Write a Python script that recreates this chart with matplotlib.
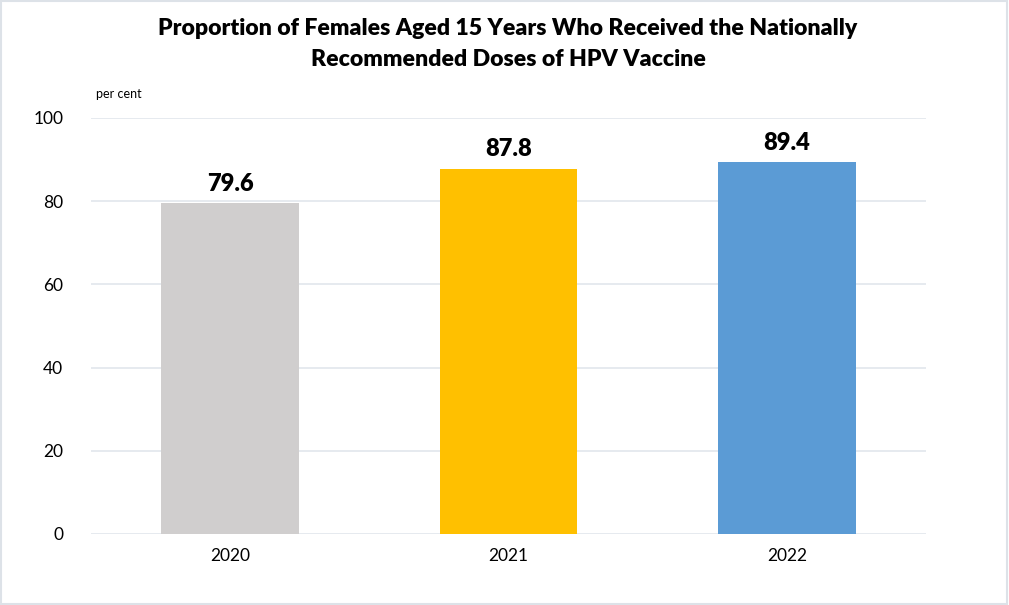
import matplotlib.pyplot as plt
from matplotlib.patches import Rectangle

years = ["2020", "2021", "2022"]
values = [79.6, 87.8, 89.4]
colors = ["#D0CECE", "#FFC000", "#5B9BD5"]
yticks = [0, 20, 40, 60, 80, 100]

plt.rcParams["font.family"] = ["Lato", "DejaVu Sans"]


def main() -> None:
    fig = plt.figure(figsize=(10.09, 6.05), dpi=100)
    ax = fig.add_axes([0.0902, 0.1174, 0.8275, 0.6876])

    x = range(len(years))
    bars = ax.bar(x, values, width=0.495, color=colors, zorder=3)
    for b, v in zip(bars, values):
        ax.text(b.get_x() + b.get_width() / 2, v + 2.0, f"{v:.1f}",
                ha="center", va="bottom", fontsize=17, fontweight="heavy")

    ax.set_xlim(-0.5, len(years) - 0.5)
    ax.set_ylim(0, 100)
    ax.set_yticks(yticks)
    ax.set_xticks(list(x))
    ax.set_xticklabels(years)
    ax.tick_params(axis="both", length=0, labelsize=12.5, colors="#000000")
    ax.tick_params(axis="y", pad=20)
    ax.tick_params(axis="x", pad=10)
    ax.grid(axis="y", color="#E1E6EC", lw=1.2, zorder=0)
    for s in ax.spines.values():
        s.set_visible(False)

    fig.text(0.5035, 0.97, "Proportion of Females Aged 15 Years Who Received the Nationally\nRecommended Doses of HPV Vaccine",
             ha="center", va="top", fontsize=16.6, fontweight="heavy", linespacing=1.55)
    fig.text(0.095, 0.835, "per cent", fontsize=9, ha="left", va="bottom")

    fig.patches.append(Rectangle((0.001, 0.002), 0.997, 0.996, transform=fig.transFigure,
                                 fill=False, edgecolor="#DDE2E8", lw=1.5))

    fig.savefig("out.png", dpi=100)


if __name__ == "__main__":
    main()
